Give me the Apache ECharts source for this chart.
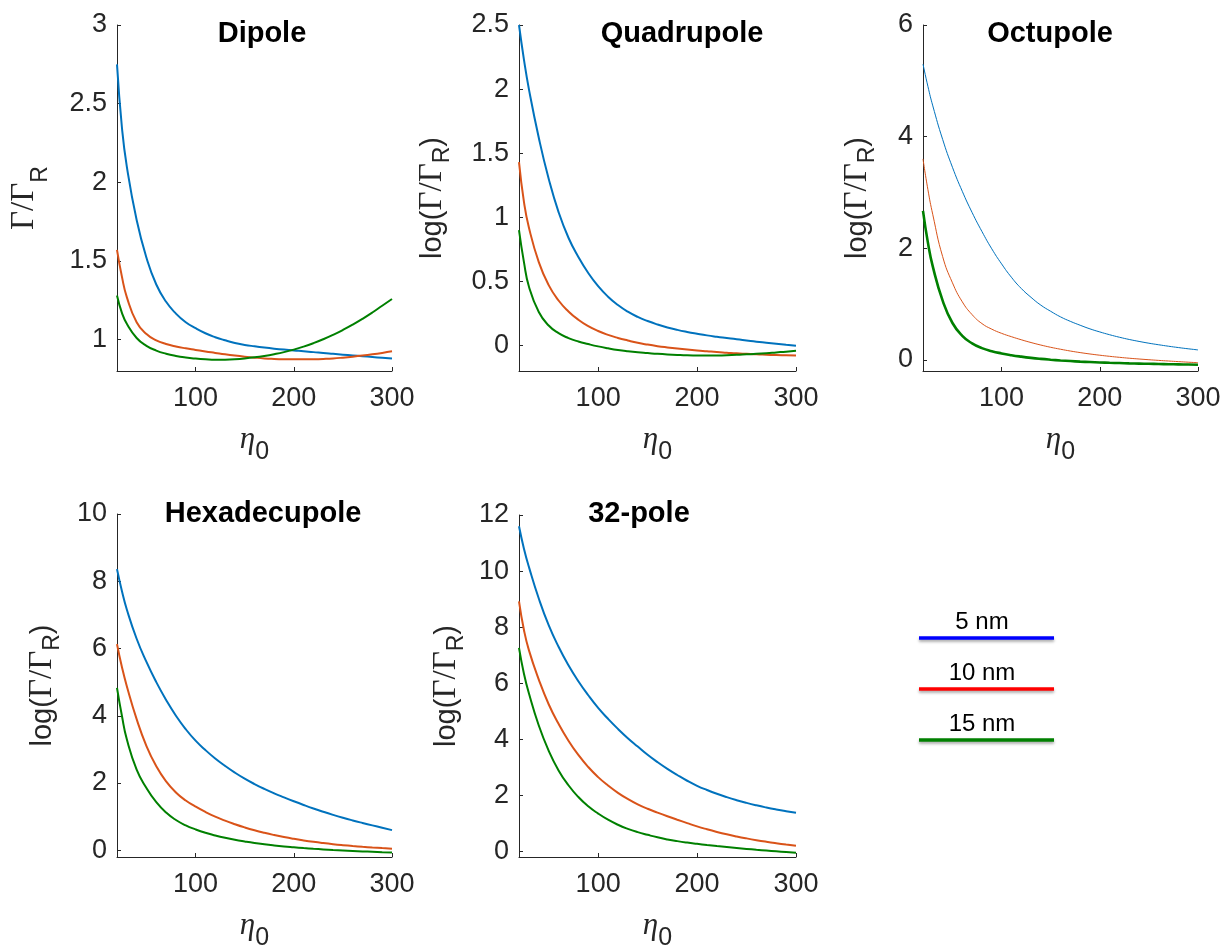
<!DOCTYPE html>
<html>
<head>
<meta charset="utf-8">
<script src="https://cdn.jsdelivr.net/npm/echarts@6/dist/echarts.min.js"></script>
<style>
html,body{margin:0;padding:0;background:#fff;}
#chart{width:1227px;height:952px;}
</style>
</head>
<body>
<div id="chart"></div>
<script>
// ---- data ----
const eta = [20,25,30,40,50,60,70,80,90,100,110,120,130,140,150,160,170,180,190,200,210,220,230,240,250,260,270,280,290,300];
const sizeLabels = ['5 nm','10 nm','15 nm'];
const panelTitles = ['Dipole','Quadrupole','Octupole','Hexadecupole','32-pole'];
const xTicks = [100,200,300];

const dipole5  = [2.75,2.35,2.10,1.76,1.52,1.35,1.24,1.165,1.11,1.072,1.04,1.015,0.995,0.978,0.966,0.957,0.949,0.942,0.936,0.931,0.925,0.92,0.914,0.909,0.904,0.899,0.894,0.889,0.884,0.879];
const dipole10 = [1.57,1.40,1.27,1.11,1.035,0.995,0.972,0.956,0.944,0.934,0.924,0.915,0.906,0.898,0.891,0.885,0.88,0.877,0.875,0.874,0.874,0.875,0.877,0.88,0.885,0.891,0.898,0.906,0.915,0.925];
const dipole15 = [1.28,1.17,1.10,1.01,0.96,0.93,0.91,0.896,0.886,0.879,0.874,0.871,0.872,0.875,0.88,0.887,0.896,0.907,0.92,0.936,0.955,0.977,1.002,1.03,1.061,1.095,1.132,1.172,1.215,1.258];

const quad5  = [2.5,2.23,2.0,1.62,1.3,1.04,0.84,0.69,0.565,0.462,0.38,0.315,0.263,0.222,0.19,0.163,0.14,0.121,0.105,0.091,0.078,0.067,0.057,0.047,0.038,0.029,0.021,0.013,0.005,-0.003];
const quad10 = [1.43,1.12,0.92,0.65,0.47,0.35,0.265,0.2,0.15,0.112,0.082,0.058,0.038,0.02,0.006,-0.006,-0.016,-0.025,-0.033,-0.04,-0.046,-0.052,-0.057,-0.062,-0.066,-0.07,-0.073,-0.076,-0.078,-0.08];
const quad15 = [0.9,0.65,0.46,0.26,0.155,0.095,0.057,0.03,0.01,-0.008,-0.023,-0.036,-0.046,-0.054,-0.06,-0.066,-0.071,-0.075,-0.078,-0.079,-0.08,-0.079,-0.077,-0.074,-0.07,-0.066,-0.061,-0.055,-0.049,-0.042];

const oct5  = [5.3,4.9,4.55,3.95,3.45,3.02,2.64,2.3,1.99,1.72,1.48,1.28,1.12,0.98,0.87,0.77,0.69,0.62,0.555,0.5,0.45,0.405,0.365,0.33,0.298,0.27,0.244,0.22,0.198,0.178];
const oct10 = [3.6,3.05,2.6,1.85,1.38,1.04,0.81,0.65,0.55,0.475,0.415,0.36,0.31,0.265,0.225,0.19,0.158,0.13,0.105,0.083,0.063,0.045,0.029,0.015,0.002,-0.01,-0.021,-0.032,-0.042,-0.052];
const oct15 = [2.67,2.1,1.67,1.06,0.66,0.43,0.295,0.21,0.155,0.115,0.083,0.057,0.035,0.017,0.002,-0.011,-0.022,-0.032,-0.04,-0.047,-0.053,-0.058,-0.063,-0.067,-0.071,-0.075,-0.078,-0.081,-0.084,-0.087];

const hex5  = [8.36,7.71,7.16,6.29,5.6,5.0,4.47,4.0,3.6,3.26,2.98,2.73,2.51,2.31,2.13,1.97,1.825,1.693,1.573,1.458,1.348,1.243,1.145,1.053,0.967,0.887,0.812,0.74,0.67,0.6];
const hex10 = [6.13,5.45,4.88,3.9,3.1,2.5,2.05,1.72,1.48,1.3,1.14,1.0,0.88,0.775,0.68,0.595,0.52,0.453,0.393,0.34,0.293,0.251,0.214,0.181,0.152,0.126,0.103,0.083,0.065,0.049];
const hex15 = [4.83,4.0,3.3,2.4,1.85,1.43,1.12,0.9,0.74,0.62,0.52,0.44,0.37,0.31,0.26,0.215,0.177,0.144,0.115,0.09,0.066,0.045,0.026,0.009,-0.006,-0.02,-0.033,-0.045,-0.056,-0.066];

const p32_5  = [11.6,10.8,10.15,9.02,8.07,7.3,6.64,6.07,5.57,5.12,4.73,4.37,4.04,3.74,3.445,3.185,2.945,2.725,2.52,2.34,2.19,2.055,1.935,1.827,1.73,1.643,1.565,1.495,1.432,1.375];
const p32_10 = [8.92,7.9,7.18,6.13,5.25,4.55,3.95,3.44,3.01,2.65,2.35,2.09,1.87,1.68,1.52,1.385,1.255,1.13,1.009,0.891,0.788,0.694,0.609,0.533,0.464,0.401,0.344,0.292,0.244,0.2];
const p32_15 = [7.26,6.34,5.64,4.49,3.59,2.89,2.36,1.94,1.61,1.35,1.13,0.95,0.805,0.687,0.591,0.502,0.428,0.366,0.314,0.27,0.229,0.191,0.155,0.121,0.089,0.059,0.03,0.002,-0.025,-0.051];

const yTicksDipole = [1,1.5,2,2.5,3];
const yTicksQuad = [0,0.5,1,1.5,2,2.5];
const yTicksOct = [0,2,4,6];
const yTicksHex = [0,2,4,6,8,10];
const yTicks32 = [0,2,4,6,8,10,12];

// ---- layout / style ----
const SANS = '"Liberation Sans", Arial, Helvetica, sans-serif';
const SERIF = '"Liberation Serif", "Times New Roman", serif';
const AX = '#262626';
const lineColors = ['#0072BD', '#D95319', '#008000'];
const legendColors = ['#0000FF', '#FF0000', '#008000'];

const panels = [
  {grid:{left:117, top:25, width:275, height:346}, ymin:0.8, ymax:3, yticks:yTicksDipole, data:[dipole5,dipole10,dipole15], widths:[2,2,2], title:{x:257, y:14}, yname:'{g|Γ/Γ}{S|R}', ygap:65},
  {grid:{left:519, top:25, width:277, height:346}, ymin:-0.2, ymax:2.5, yticks:yTicksQuad, data:[quad5,quad10,quad15], widths:[2,2,2], title:{x:677, y:14}, yname:'{t|log(}{g|Γ/Γ}{s|R}{t|)}', ygap:65},
  {grid:{left:923, top:25, width:275, height:346}, ymin:-0.2, ymax:6, yticks:yTicksOct, data:[oct5,oct10,oct15], widths:[1,1,2.6], title:{x:1045, y:14}, yname:'{t|log(}{g|Γ/Γ}{s|R}{t|)}', ygap:44},
  {grid:{left:117, top:514, width:275, height:347}, ymin:-0.2, ymax:10, yticks:yTicksHex, data:[hex5,hex10,hex15], widths:[2,2,2], title:{x:258, y:494}, yname:'{t|log(}{g|Γ/Γ}{s|R}{t|)}', ygap:53},
  {grid:{left:519, top:515, width:277, height:346}, ymin:-0.2, ymax:12, yticks:yTicks32, data:[p32_5,p32_10,p32_15], widths:[2,2,2], title:{x:634, y:494}, yname:'{t|log(}{g|Γ/Γ}{s|R}{t|)}', ygap:51}
];

const nameRich = {
  t:{fontFamily:SANS, fontSize:29, color:AX, verticalAlign:'middle'},
  g:{fontFamily:SERIF, fontSize:33, color:AX, verticalAlign:'middle'},
  s:{fontFamily:SANS, fontSize:23, color:AX, verticalAlign:'middle', padding:[20,0,0,0]},
  S:{fontFamily:SANS, fontSize:23, color:AX, verticalAlign:'middle', padding:[32,0,0,0]},
  e:{fontFamily:SERIF, fontStyle:'italic', fontSize:31, color:AX, verticalAlign:'middle'},
  z:{fontFamily:SANS, fontSize:25, color:AX, verticalAlign:'middle', padding:[26,0,0,0]}
};

const option = {
  animation:false,
  backgroundColor:'#fff',
  title: panels.map((p,i)=>({
    text: panelTitles[i], left: p.title.x, top: p.title.y, textAlign:'center',
    textStyle:{fontFamily:SANS, fontWeight:'bold', fontSize:29, color:'#000'}
  })),
  grid: panels.map(p=>Object.assign({containLabel:false}, p.grid)),
  xAxis: panels.map((p,i)=>({
    type:'value', gridIndex:i, min:20, max:300,
    name:'{e|η}{z|0}', nameLocation:'middle', nameGap:43, nameTextStyle:{rich:nameRich},
    axisLine:{show:true, onZero:false, lineStyle:{color:AX, width:1}},
    axisTick:{show:true, inside:true, length:4, customValues:xTicks, lineStyle:{color:AX}},
    axisLabel:{customValues:xTicks, margin:14, fontFamily:SANS, fontSize:27, color:AX},
    splitLine:{show:false}
  })),
  yAxis: panels.map((p,i)=>({
    type:'value', gridIndex:i, min:p.ymin, max:p.ymax,
    name:p.yname, nameLocation:'middle', nameRotate:90, nameGap:p.ygap, nameTextStyle:{rich:nameRich},
    axisLine:{show:true, onZero:false, lineStyle:{color:AX, width:1}},
    axisTick:{show:true, inside:true, length:4, customValues:p.yticks, lineStyle:{color:AX}},
    axisLabel:{customValues:p.yticks, margin:10, fontFamily:SANS, fontSize:27, color:AX},
    splitLine:{show:false}
  })),
  series: [],
  graphic: []
};

panels.forEach((p,i)=>{
  p.data.forEach((vals,k)=>{
    option.series.push({
      type:'line', xAxisIndex:i, yAxisIndex:i, name:sizeLabels[k],
      data: eta.map((x,j)=>[x, vals[j]]),
      showSymbol:false, smooth:0.5,
      lineStyle:{color:lineColors[k], width:p.widths[k]},
      itemStyle:{color:lineColors[k]}
    });
  });
});

// legend drawn as text above a short line
const legendLineY = [638, 689, 740];
sizeLabels.forEach((lab,k)=>{
  option.graphic.push({
    type:'line', shape:{x1:919, y1:legendLineY[k], x2:1054, y2:legendLineY[k]},
    style:{stroke:legendColors[k], lineWidth:3.5, shadowBlur:3, shadowColor:'rgba(0,0,0,0.35)', shadowOffsetY:2}
  });
  option.graphic.push({
    type:'text', x:982, y:legendLineY[k]-16,
    style:{text:lab, fontFamily:SANS, fontSize:24, fill:'#000', textAlign:'center', textVerticalAlign:'middle'}
  });
});

const chart = echarts.init(document.getElementById('chart'), null, {renderer:'canvas'});
chart.setOption(option);
</script>
</body>
</html>
